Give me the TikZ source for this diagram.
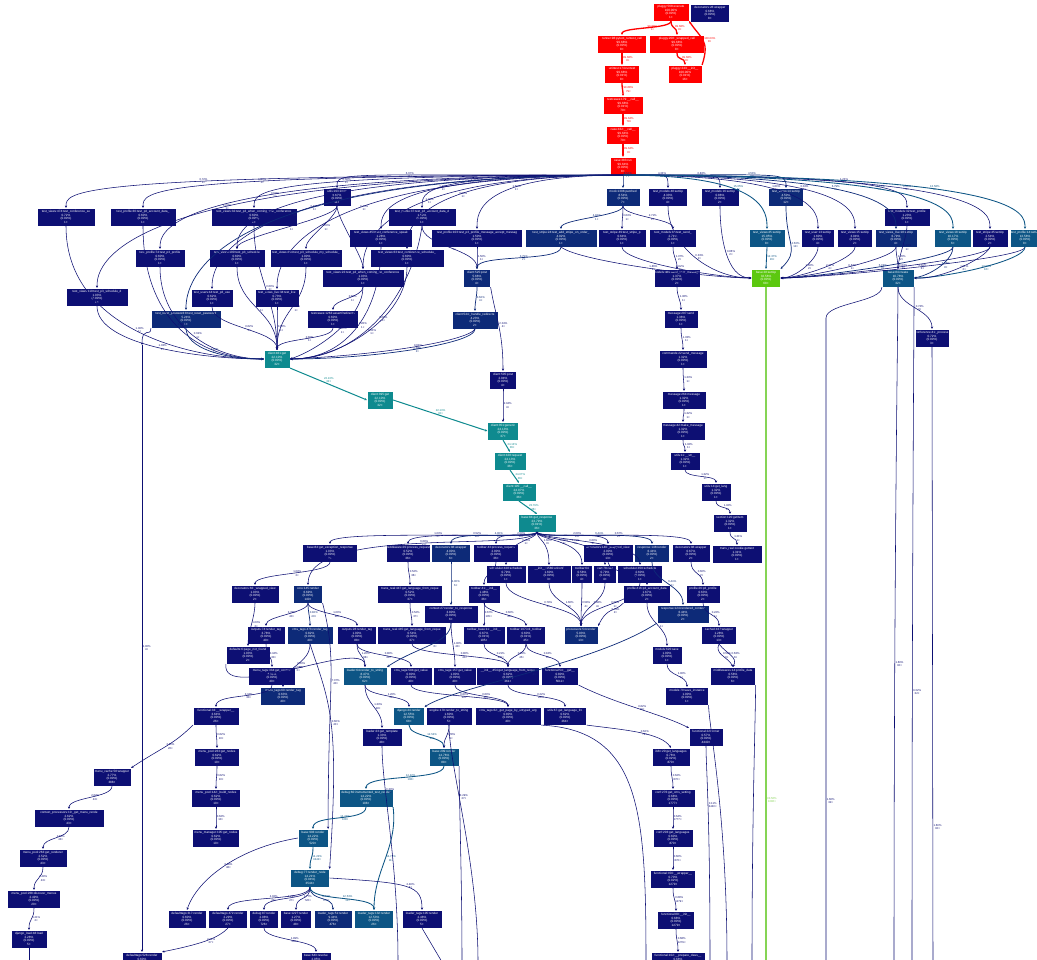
\documentclass[tikz,border=0pt]{standalone}
\usepackage{fontspec}
\setmainfont{Liberation Sans}
\usetikzlibrary{arrows.meta}
\definecolor{cN}{HTML}{0D0F73}
\definecolor{cM}{HTML}{0D2A78}
\definecolor{cB}{HTML}{0D5585}
\definecolor{cT}{HTML}{0E8A8F}
\definecolor{cG}{HTML}{5CC80F}
\definecolor{cGl}{HTML}{86D455}
\definecolor{cR}{HTML}{FF0000}
\newcommand\nf{\fontsize{3.1}{3.55}\selectfont}
\newcommand\lf{\fontsize{2.8}{3.1}\selectfont}
\newcommand\GN[6]{\node[fn,fill=#5,minimum width=#4pt] (#1) at (#2,#3) {#6};}
\newcommand\EE[5][eN]{\draw[#1] (#2) .. controls +(0,#5) and +(0,-#5) .. node[lab]{#4} (#3);}
\newcommand\EG[6][eN]{\draw[#1] (#2) .. controls +#3 and +#4 .. node[lab]{#6} (#5);}
\newcommand\FO[3][eN]{\draw[#1] (R8.south) .. controls (#2.north |- R8.south) and +(0,-16) .. node[lab,pos=.38]{#3} (#2.north);}
\tikzset{
 fn/.style={text=white, font=\nf, align=center, inner sep=0.3pt, minimum height=18pt, draw=white, line width=0.2pt},
 lab/.style={font=\lf, align=center, inner sep=0.2pt, right=0.3pt},
 e/.style={-{Stealth[length=2.4pt,width=2.2pt]}},
 eN/.style={e, draw=cN, text=cN, line width=0.55pt},
 eM/.style={e, draw=cM, text=cM, line width=0.7pt},
 eB/.style={e, draw=cB, text=cB, line width=0.85pt},
 eT/.style={e, draw=cT, text=cT, line width=1pt},
 eG/.style={e, draw=cGl, text=cGl, line width=1.4pt},
 eR/.style={e, draw=cR, text=cR, line width=1.3pt}
}
\begin{document}
\catcode`\_=12
\begin{tikzpicture}[x=1pt,y=-1pt]
\useasboundingbox (0,0) rectangle (1037,960);
\fill[white] (0,0) rectangle (1037,960);
% ---------- red chain
\GN{R1}{671}{12}{36}{cR}{pluggy:568:execute\\100.00\%\\(0.00\%)\\1×}
\GN{R1b}{710}{13}{39}{cN}{decorators:28:wrapper\\0.68\%\\(0.00\%)\\8×}
\GN{R2}{622}{44}{49}{cR}{runner:98:pytest_runtest_call\\99.68\%\\(0.00\%)\\8×}
\GN{R3}{677}{44}{55}{cR}{pluggy:208:_wrapped_call\\99.68\%\\(0.00\%)\\8×}
\GN{R4}{622}{74}{35}{cR}{unittest:174:runtest\\99.68\%\\(0.01\%)\\8×}
\GN{R5}{685}{74}{34}{cR}{pluggy:243:__init__\\100.00\%\\(0.01\%)\\16×}
\GN{R6}{623}{105}{40}{cR}{testcases:179:__call__\\99.68\%\\(0.01\%)\\79×}
\GN{R7}{623}{135}{33}{cR}{case:432:__call__\\99.64\%\\(0.00\%)\\79×}
\GN{R8}{623}{166}{26}{cR}{case:383:run\\99.64\%\\(0.00\%)\\8×}
% ---------- tests
\GN{U1}{337}{197}{28}{cN}{utils:193:inner\\6.67\%\\(0.00\%)\\11×}
\GN{MK}{623}{197}{34}{cM}{mock:1398:patched\\8.54\%\\(0.00\%)\\7×}
\GN{TM48}{668}{197}{39}{cN}{test_models:48:setUp\\4.33\%\\(0.00\%)\\4×}
\GN{TM16}{720}{197}{38}{cN}{test_models:16:setUp\\0.86\%\\(0.00\%)\\2×}
\GN{TV14}{786}{197}{35}{cM}{test_views:14:setUp\\4.50\%\\(0.00\%)\\12×}
\GN{TM32}{907}{217}{46}{cN}{test_models:32:test_profile\\1.23\%\\(0.00\%)\\1×}
\GN{A1}{66}{217}{58}{cN}{test_views:474:test_conference_se\\0.72\%\\(0.00\%)\\1×}
\GN{A2}{143}{217}{66}{cN}{test_profile:30:test_p3_account_data_\\0.60\%\\(0.00\%)\\1×}
\GN{A3}{254}{217}{86}{cN}{test_views:32:test_p3_when_coming_with_conference\\0.60\%\\(0.00\%)\\1×}
\GN{A4}{422}{217}{68}{cN}{test_profile:37:test_p3_account_data_d\\1.58\%\\(0.00\%)\\1×}
\GN{B1}{381}{238}{63}{cN}{test_views:453:test_conference_speak\\1.28\%\\(0.00\%)\\1×}
\GN{B2}{477}{238}{91}{cN}{test_profile:103:test_p3_profile_message_accept_messag\\1.50\%\\(0.00\%)\\1×}
\GN{B3}{561}{238}{72}{cM}{test_stripe:24:test_add_stripe_on_order_\\4.92\%\\(0.00\%)\\1×}
\GN{B4}{622}{238}{48}{cN}{test_stripe:49:test_stripe_p\\0.64\%\\(0.00\%)\\1×}
\GN{B5}{673}{238}{47}{cN}{test_models:86:test_send_\\2.71\%\\(0.00\%)\\1×}
\GN{B6}{767}{238}{36}{cB}{test_views:45:setUp\\15.05\%\\(0.00\%)\\8×}
\GN{B7}{818}{238}{33}{cN}{test_user:13:setUp\\1.60\%\\(0.00\%)\\4×}
\GN{B8}{855}{238}{35}{cN}{test_views:15:setUp\\3.04\%\\(0.00\%)\\2×}
\GN{B9}{896}{238}{42}{cM}{test_views_live:18:setUp\\6.79\%\\(0.00\%)\\4×}
\GN{B10}{953}{238}{37}{cB}{test_views:18:setUp\\10.17\%\\(0.00\%)\\6×}
\GN{B11}{990}{238}{36}{cN}{test_stripe:45:setUp\\2.54\%\\(0.00\%)\\2×}
\GN{B12}{1025}{238}{30}{cB}{test_profile:14:setUp\\13.58\%\\(0.00\%)\\8×}
\GN{C1}{160}{258}{50}{cN}{test_profile:74:test_p3_profile\\0.60\%\\(0.00\%)\\1×}
\GN{C2}{237}{258}{56}{cN}{test_views:100:test_p3_schedule\\0.60\%\\(0.00\%)\\1×}
\GN{C3}{306}{258}{72}{cN}{test_views:204:test_p3_schedule_my_schedule_\\1.00\%\\(0.00\%)\\1×}
\GN{C4}{407}{258}{74}{cN}{test_views:63:test_conference_schedule_\\0.60\%\\(0.00\%)\\1×}
\GN{D1}{363}{278}{82}{cN}{test_views:22:test_p3_when_coming_no_conference\\1.03\%\\(0.00\%)\\1×}
\GN{CP}{477}{278}{27}{cM}{client:525:post\\5.66\%\\(0.00\%)\\4×}
\GN{ML}{677}{278}{46}{cN}{models:489:send_user_message\\1.37\%\\(0.00\%)\\2×}
\GN{GR}{766}{278}{29}{cG}{base:28:setUp\\33.56\%\\(0.00\%)\\68×}
\GN{FX}{898}{278}{32}{cB}{base:84:create\\10.78\%\\(0.00\%)\\32×}
\GN{E1}{97}{297}{62}{cN}{test_views:119:test_p3_schedule_d\\1.03\%\\(0.00\%)\\1×}
\GN{E2}{212}{298}{42}{cN}{test_users:44:test_p3_use\\0.62\%\\(0.00\%)\\1×}
\GN{E3}{277}{298}{44}{cN}{test_views_live:34:test_live\\0.73\%\\(0.00\%)\\1×}
\GN{F1}{186}{319}{70}{cM}{test_reset_password:8:test_reset_password\\5.24\%\\(0.00\%)\\1×}
\GN{F2}{333}{319}{51}{cN}{testcases:1263:assertRedirects\\0.60\%\\(0.00\%)\\1×}
\GN{HR}{475}{320}{46}{cM}{client:544:_handle_redirects\\4.23\%\\(0.00\%)\\2×}
\GN{MS}{681}{319}{34}{cN}{message:297:send\\1.36\%\\(0.00\%)\\1×}
\GN{CN}{932}{338}{34}{cN}{conference:41:_process\\0.72\%\\(0.00\%)\\3×}
\GN{G1}{277}{359}{26}{cT}{client:461:get\\22.10\%\\(0.00\%)\\32×}
\GN{MC}{683}{359}{48}{cN}{commands:22:send_message\\1.32\%\\(0.00\%)\\1×}
\GN{G2}{380}{400}{26}{cT}{client:395:get\\22.10\%\\(0.00\%)\\32×}
\GN{CPo}{503}{380}{27}{cN}{client:505:post\\2.04\%\\(0.00\%)\\4×}
\GN{MM}{684}{400}{44}{cN}{message:264:message\\1.32\%\\(0.00\%)\\1×}
\GN{GEN}{503}{431}{31}{cT}{client:351:generic\\24.13\%\\(0.00\%)\\37×}
\GN{MK2}{683}{431}{44}{cN}{message:42:make_message\\1.32\%\\(0.00\%)\\1×}
\GN{REQ}{510}{461}{32}{cT}{client:428:request\\24.13\%\\(0.00\%)\\36×}
\GN{US}{685}{461}{30}{cN}{utils:11:__str__\\1.32\%\\(0.00\%)\\1×}
\GN{CALL}{519}{492}{34}{cT}{client:105:__call__\\24.07\%\\(0.00\%)\\36×}
\GN{UG}{716}{492}{30}{cN}{utils:14:get_lang\\1.32\%\\(0.00\%)\\1×}
\GN{GRp}{537}{523}{38}{cT}{base:84:get_response\\23.79\%\\(0.01\%)\\36×}
\GN{SG}{730}{523}{34}{cN}{section:120:getItem\\1.32\%\\(0.00\%)\\1×}
\GN{TG}{737}{554}{50}{cN}{trans_real:cookie.gettext\\1.31\%\\(0.00\%)\\1×}
% ---------- request handling
\GN{X1}{330}{553}{55}{cN}{base:84:get_exception_response\\1.03\%\\(0.00\%)\\2×}
\GN{X2}{408}{553}{44}{cN}{middleware:29:process_request\\0.52\%\\(0.00\%)\\36×}
\GN{X3}{451}{553}{39}{cM}{decorators:88:wrapper\\4.00\%\\(0.00\%)\\6×}
\GN{X4}{496}{553}{45}{cN}{toolbar:43:process_request\\2.00\%\\(0.00\%)\\36×}
\GN{X5}{608}{553}{50}{cN}{decorators:140:_wrapped_view\\2.00\%\\(0.00\%)\\13×}
\GN{X6}{652}{553}{35}{cM}{response:148:render\\6.44\%\\(0.00\%)\\2×}
\GN{X7}{691}{553}{38}{cN}{decorators:88:wrapper\\0.67\%\\(0.00\%)\\2×}
\GN{Y1}{506}{574}{40}{cN}{scheduler:428:schedule\\0.79\%\\(0.00\%)\\1×}
\GN{Y2}{549}{574}{44}{cN}{__init__:1580:urlconf\\1.60\%\\(0.00\%)\\3×}
\GN{Y3}{582}{574}{21}{cN}{toolbar:64\\0.58\%\\(0.00\%)\\4×}
\GN{Y4}{605}{574}{23}{cN}{cart:78:cart\\0.79\%\\(0.00\%)\\4×}
\GN{Y5}{640}{574}{45}{cN}{scheduler:450:schedule\\0.60\%\\(0.00\%)\\1×}
\GN{Z1}{255}{594}{48}{cN}{decorators:66:_wrapped_view\\1.03\%\\(0.00\%)\\2×}
\GN{Z2}{308}{594}{29}{cM}{core:145:render\\6.69\%\\(0.00\%)\\140×}
\GN{Z3}{410}{594}{65}{cN}{trans_real:447:get_language_from_reque\\0.52\%\\(0.00\%)\\37×}
\GN{Z4}{484}{594}{32}{cN}{toolbar:41:__init__\\1.48\%\\(0.00\%)\\36×}
\GN{Z5}{647}{594}{47}{cN}{profile:446:p3_account_data\\1.67\%\\(0.00\%)\\2×}
\GN{Z6}{703}{594}{34}{cN}{profile:26:p3_profile\\0.63\%\\(0.00\%)\\2×}
\GN{H1}{451}{614}{54}{cN}{context:27:render_to_response\\3.80\%\\(0.00\%)\\6×}
\GN{H2}{683}{614}{52}{cM}{response:124:rendered_content\\6.44\%\\(0.00\%)\\2×}
\GN{I1}{266}{635}{38}{cN}{outputs:74:render_tag\\3.78\%\\(0.00\%)\\40×}
\GN{I2}{310}{635}{46}{cM}{cms_tags:473:render_tag\\0.82\%\\(0.00\%)\\40×}
\GN{I3}{357}{635}{39}{cN}{outputs:28:render_tag\\1.00\%\\(0.00\%)\\88×}
\GN{I4}{412}{635}{69}{cN}{trans_real:445:get_language_from_reque\\0.54\%\\(0.00\%)\\37×}
\GN{I5}{484}{635}{42}{cN}{toolbar_base:11:__init__\\0.67\%\\(0.01\%)\\105×}
\GN{I6}{526}{635}{39}{cN}{toolbar:107:init_toolbar\\0.60\%\\(0.01\%)\\45×}
\GN{I7}{581}{635}{34}{cM}{processors:54:render\\5.93\%\\(0.00\%)\\13×}
\GN{I8}{719}{635}{35}{cN}{cached:437:wrapper\\1.28\%\\(0.00\%)\\13×}
\GN{J0}{248}{655}{44}{cN}{defaults:6:page_not_found\\1.03\%\\(0.00\%)\\2×}
\GN{MSV}{667}{655}{30}{cN}{models:620:save\\1.00\%\\(0.00\%)\\1×}
\GN{K0}{272}{676}{47}{cN}{menu_tags:334:get_context\\3.34\%\\(0.00\%)\\40×}
\GN{K1}{365}{676}{44}{cB}{loader:64:render_to_string\\8.47\%\\(0.00\%)\\62×}
\GN{K2}{411}{676}{42}{cN}{cms_tags:594:get_value\\0.80\%\\(0.00\%)\\40×}
\GN{K3}{455}{676}{43}{cN}{cms_tags:157:get_value\\1.00\%\\(0.00\%)\\40×}
\GN{K4}{508}{676}{63}{cN}{__init__:454:get_language_from_reque\\0.62\%\\(0.00\%)\\261×}
\GN{K5}{560}{676}{37}{cN}{functional:54:__get__\\0.80\%\\(0.00\%)\\5611×}
\GN{MW}{733}{676}{45}{cN}{middlewares:14:profile_data\\0.58\%\\(0.00\%)\\6×}
\GN{K6}{283}{696}{45}{cM}{menu_tags:60:render_tag\\0.63\%\\(0.00\%)\\40×}
\GN{MSI}{687}{696}{43}{cN}{models:70:save_instance\\1.00\%\\(0.00\%)\\1×}
\GN{L0}{216}{716}{46}{cN}{functional:33:__wrapper__\\3.64\%\\(0.00\%)\\26×}
\GN{L1}{409}{716}{31}{cB}{django:44:render\\12.55\%\\(0.00\%)\\68×}
\GN{L2}{449}{716}{46}{cN}{engine:179:render_to_string\\1.60\%\\(0.00\%)\\5×}
\GN{L3}{508}{716}{66}{cN}{cms_tags:62:_get_page_by_untyped_arg\\0.80\%\\(0.00\%)\\40×}
\GN{L4}{565}{716}{43}{cN}{utils:67:get_language_fro\\0.62\%\\(0.00\%)\\264×}
\GN{M1}{382}{737}{40}{cN}{loader:23:get_template\\1.33\%\\(0.00\%)\\48×}
\GN{M2}{706}{737}{34}{cN}{functional:220:inner\\0.57\%\\(0.00\%)\\4440×}
\GN{N0}{217}{757}{45}{cN}{menu_pool:263:get_nodes\\0.62\%\\(0.00\%)\\10×}
\GN{N1}{444}{757}{30}{cB}{base:209:render\\14.76\%\\(0.00\%)\\88×}
\GN{N2}{671}{757}{38}{cN}{i18n:20:get_languages\\0.76\%\\(0.02\%)\\870×}
\GN{O1}{112}{777}{38}{cN}{menu_cache:58:wrapper\\2.77\%\\(0.00\%)\\388×}
\GN{P0}{216}{798}{49}{cN}{menu_pool:142:_build_nodes\\0.62\%\\(0.00\%)\\10×}
\GN{P1}{366}{798}{54}{cB}{debug:60:instrumented_test_render\\14.22\%\\(0.00\%)\\108×}
\GN{P2}{673}{798}{44}{cN}{conf:276:get_cms_setting\\0.68\%\\(0.00\%)\\1777×}
\GN{Q0}{69}{818}{70}{cN}{context_processors:10:_get_menu_rende\\2.62\%\\(0.00\%)\\43×}
\GN{R0n}{216}{838}{47}{cN}{menu_manager:105:get_nodes\\0.62\%\\(0.00\%)\\10×}
\GN{S1}{313}{838}{30}{cB}{base:903:render\\14.22\%\\(0.00\%)\\520×}
\GN{S2}{673}{838}{40}{cN}{conf:203:get_languages\\0.60\%\\(0.00\%)\\870×}
\GN{T0}{43}{858}{48}{cN}{menu_pool:263:get_renderer\\2.52\%\\(0.00\%)\\43×}
\GN{U0}{310}{878}{39}{cB}{debug:77:render_node\\14.21\%\\(0.04\%)\\3544×}
\GN{U2}{673}{879}{45}{cN}{functional:150:__wrapper__\\0.70\%\\(0.02\%)\\1279×}
\GN{V0}{34}{899}{53}{cN}{menu_pool:268:discover_menus\\2.49\%\\(0.00\%)\\20×}
\GN{W1}{187}{919}{38}{cN}{defaulttags:317:render\\0.60\%\\(0.00\%)\\26×}
\GN{W2}{228}{919}{39}{cN}{defaulttags:472:render\\2.29\%\\(0.00\%)\\27×}
\GN{W3}{264}{919}{29}{cN}{debug:87:render\\2.08\%\\(0.00\%)\\726×}
\GN{W4}{296}{919}{31}{cN}{base:1227:render\\1.27\%\\(0.00\%)\\48×}
\GN{W5}{333}{919}{38}{cM}{loader_tags:51:render\\9.44\%\\(0.00\%)\\476×}
\GN{W6}{374}{919}{39}{cB}{loader_tags:132:render\\12.53\%\\(0.00\%)\\26×}
\GN{W7}{422}{919}{40}{cN}{loader_tags:105:render\\2.48\%\\(0.00\%)\\5×}
\GN{U3}{676}{920}{37}{cN}{functional:89:__init__\\0.68\%\\(0.00\%)\\1279×}
\GN{V1}{29}{939}{36}{cN}{django_load:48:load\\2.28\%\\(0.00\%)\\5×}
\GN{BT1}{142}{961}{40}{cN}{defaulttags:528:render\\0.60\%\\(0.00\%)\\26×}
\GN{BT2}{316}{961}{30}{cN}{base:643:resolve\\2.05\%\\(0.00\%)\\592×}
\GN{BT3}{678}{961}{54}{cN}{functional:102:__prepare_class__\\0.68\%\\(0.00\%)\\1279×}
% ---------- free ends
\coordinate (bG) at (766,962);
\coordinate (b1t) at (826,318); \coordinate (b1) at (826,962);
\coordinate (b2) at (894,962); \coordinate (b3) at (912,962);
\coordinate (b4) at (933,962); \coordinate (b5) at (752,962);
\coordinate (b6) at (727,962); \coordinate (b7) at (710,962);
\coordinate (b8) at (646,962); \coordinate (b9) at (398,962);
\coordinate (b10) at (462,962); \coordinate (b11) at (442,962);
\coordinate (b12) at (29,962); \coordinate (b13) at (478,962);
\coordinate (bl1) at (142,345);
% ---------- red edges
\EE[eR]{R1.south}{R2.north}{99.68\%\\1×}{8}
\EE[eR]{R1.south}{R3.north}{99.68\%\\8×}{8}
\EE[eR]{R3.south}{R5.north}{99.68\%\\8×}{8}
\draw[eR] (R5.north east) .. controls +(8,-25) and +(12,18) .. node[lab]{100.00\%\\8×} (R1.south east);
\EE[eR]{R2.south}{R4.north}{99.68\%\\8×}{6}
\EE[eR]{R4.south}{R6.north}{99.68\%\\79×}{6}
\EE[eR]{R6.south}{R7.north}{99.64\%\\79×}{6}
\EE[eR]{R7.south}{R8.north}{99.64\%\\8×}{6}
% ---------- fan-out
\FO{U1}{6.67\%\\11×}
\FO{A1}{0.72\%\\1×}
\FO{A2}{0.60\%\\1×}
\FO{A3}{0.60\%\\1×}
\FO{A4}{1.58\%\\1×}
\FO[eM]{MK}{8.54\%\\7×}
\FO{TM48}{4.33\%\\2×}
\FO{TM16}{0.86\%\\2×}
\FO[eM]{TV14}{4.50\%\\12×}
\FO{TM32}{1.23\%\\1×}
\FO[eB]{B6}{15.05\%\\8×}
\FO{B7}{1.60\%\\3×}
\FO{B8}{3.04\%\\2×}
\FO[eM]{B9}{6.79\%\\4×}
\FO[eB]{B10}{10.17\%\\6×}
\FO{B11}{2.54\%\\2×}
\FO[eB]{B12}{13.58\%\\8×}
\FO{B1}{1.28\%\\1×}
\FO{B2}{1.50\%\\1×}
\FO{C1}{0.60\%\\1×}
\FO{C2}{0.60\%\\1×}
\FO{C4}{0.60\%\\1×}
\FO{D1}{1.03\%\\1×}
\FO{E1}{1.03\%\\1×}
\FO{E2}{0.62\%\\1×}
\FO{E3}{0.73\%\\1×}
\FO[eM]{F1}{5.24\%\\1×}
\EE{U1.south}{C2.north}{0.60\%\\1×}{12}
\EE{U1.south}{C3.north}{1.00\%\\1×}{12}
\EE{U1.south}{D1.north}{0.71\%\\1×}{12}
\EE[eM]{MK.south}{B3.north}{4.92\%\\1×}{10}
\EE{MK.south}{B4.north}{0.64\%\\1×}{10}
\EE{MK.south}{B5.north}{2.71\%\\1×}{10}
% ---------- into client get
\EG{A1.south}{(0,100)}{(-80,0)}{G1.west}{1.00\%\\1×}
\EG{A2.south}{(0,90)}{(-70,0)}{G1.west}{0.60\%\\1×}
\EG{C1.south}{(0,60)}{(-50,0)}{G1.west}{0.62\%\\1×}
\EG{E1.south}{(0,40)}{(-60,0)}{G1.west}{1.03\%\\1×}
\EG[eM]{F1.south}{(0,20)}{(-40,0)}{G1.west}{3.11\%\\1×}
\EE{A3.south}{G1.north}{0.60\%\\1×}{50}
\EE{C2.south}{G1.north}{0.60\%\\1×}{40}
\EE{C3.south}{G1.north}{1.00\%\\1×}{40}
\EE{E2.south}{G1.north}{0.62\%\\1×}{20}
\EE{E3.south}{G1.north}{0.80\%\\1×}{15}
\EE{F2.south}{G1.north}{0.60\%\\1×}{12}
\EE{D1.south}{F2.north}{0.60\%\\1×}{10}
\EG{D1.south}{(0,30)}{(30,-10)}{G1.east}{0.60\%\\1×}
\EG{C4.south}{(0,50)}{(50,0)}{G1.east}{0.60\%\\1×}
\EG{B1.south}{(0,60)}{(60,0)}{G1.east}{1.28\%\\1×}
\EG{A4.south}{(-10,70)}{(70,0)}{G1.east}{0.60\%\\1×}
\EG[eM]{HR.south}{(0,15)}{(80,0)}{G1.east}{4.23\%\\2×}
\EG{HR.south}{(-8,12)}{(90,-4)}{G1.east}{0.60\%\\1×}
\EG{F1.south west}{(0,10)}{(0,-20)}{bl1}{}
\draw[eN] (bl1) -- node[lab]{1.00\%\\4×} (BT1.north);
% ---------- post chain
\EE{A4.south}{CP.north}{1.00\%\\1×}{20}
\EE{B2.south}{CP.north}{1.50\%\\1×}{15}
\EE[eM]{B3.south}{CP.north}{3.79\%\\2×}{15}
\EE[eM]{CP.south}{HR.north}{3.62\%\\4×}{10}
\EG{CP.south east}{(5,30)}{(0,-40)}{CPo.north}{2.04\%\\4×}
\EE{CPo.south}{GEN.north}{2.04\%\\4×}{10}
\draw[eT] (G1.south east) -- node[lab,above=0.5pt]{22.10\%\\32×} (G2.west);
\draw[eT] (G2.east) -- node[lab,above=0.5pt]{22.10\%\\32×} (GEN.west);
\draw[eT] (GEN.south) -- node[lab]{24.13\%\\36×} (REQ.north);
\draw[eT] (REQ.south) -- node[lab]{24.07\%\\36×} (CALL.north);
\draw[eT] (CALL.south) -- node[lab]{23.79\%\\36×} (GRp.north);
% ---------- message chain
\EE{B5.south}{ML.north}{1.37\%\\2×}{10}
\EE{ML.south}{MS.north}{1.36\%\\1×}{10}
\EE{MS.south}{MC.north}{1.33\%\\1×}{10}
\EE{MC.south}{MM.north}{1.33\%\\1×}{10}
\EE{MM.south}{MK2.north}{1.32\%\\1×}{8}
\EE{MK2.south}{US.north}{1.32\%\\1×}{8}
\EE{US.south}{UG.north}{1.32\%\\1×}{8}
\EE{UG.south}{SG.north}{1.32\%\\1×}{8}
\EE{SG.south}{TG.north}{1.31\%\\1×}{8}
% ---------- setUp -> green / fixtures
\EG{TM48.south}{(0,40)}{(-40,0)}{GR.west}{0.33\%\\2×}
\EG{TM16.south}{(0,30)}{(-25,0)}{GR.west}{0.86\%\\2×}
\EG{B3.south}{(20,15)}{(-40,0)}{GR.west}{1.86\%\\2×}
\EG{B4.south}{(0,15)}{(-30,0)}{GR.west}{0.52\%\\1×}
\EG[eM]{TV14.south}{(0,40)}{(20,-20)}{GR.north east}{4.50\%\\12×}
\draw[eB] (B6.south) -- node[lab]{12.37\%\\16×} (GR.north);
\EG{B7.south}{(0,12)}{(15,0)}{GR.east}{1.60\%\\2×}
\EG{B8.south}{(0,12)}{(20,0)}{GR.east}{2.71\%\\4×}
\EG{B9.south}{(0,12)}{(25,0)}{GR.east}{0.67\%\\1×}
\EG[eM]{B10.south}{(0,12)}{(30,0)}{GR.east}{5.09\%\\8×}
\EG{B11.south}{(0,12)}{(35,0)}{GR.east}{0.64\%\\1×}
\EG{B12.south}{(0,12)}{(40,0)}{GR.east}{2.59\%\\8×}
\EE{B9.south}{FX.north}{1.20\%\\2×}{8}
\EG[eM]{B10.south}{(0,12)}{(20,-4)}{FX.east}{5.08\%\\8×}
\EG[eB]{B12.south}{(0,14)}{(30,0)}{FX.east}{10.99\%\\16×}
\EG{B11.south}{(-5,12)}{(25,2)}{FX.east}{1.61\%\\2×}
\EG{TM32.south}{(0,10)}{(0,-10)}{FX.north}{1.23\%\\1×}
\EE{FX.south}{CN.north}{0.73\%\\3×}{20}
\draw[eG,-] (GR.south) -- node[lab,pos=.76]{33.56\%\\1086×} (bG);
\draw[eN,-] (FX.south west) .. controls +(0,15) and +(0,-15) .. (b1t) -- node[lab,pos=.75]{1.60\%\\32×} (b1);
\draw[eN,-] (FX.south) .. controls +(0,30) and +(0,-400) .. node[lab,pos=.72]{1.60\%\\32×} (b2);
\draw[eN,-] (FX.south east) .. controls +(0,30) and +(0,-400) .. node[lab,pos=.75]{3.32\%\\32×} (b3);
\draw[eN,-] (CN.south) -- node[lab,pos=.78]{1.60\%\\32×} (b4);
% ---------- get_response fan-out
\EG{GRp.south}{(0,8)}{(0,-15)}{X1.north}{1.03\%\\2×}
\EG{GRp.south}{(0,8)}{(0,-15)}{X2.north}{0.52\%\\36×}
\EG[eM]{GRp.south}{(0,8)}{(0,-15)}{X3.north}{4.00\%\\6×}
\EG{GRp.south}{(0,8)}{(0,-15)}{X4.north}{2.00\%\\36×}
\EG{GRp.south}{(0,8)}{(0,-25)}{Y1.north}{0.79\%\\1×}
\EG{GRp.south}{(0,8)}{(0,-25)}{Y2.north}{1.60\%\\3×}
\EG{GRp.south}{(0,8)}{(0,-25)}{Y3.north}{0.58\%\\4×}
\EG{GRp.south}{(0,8)}{(0,-25)}{Y4.north}{0.79\%\\4×}
\EG{GRp.south}{(0,8)}{(0,-25)}{Y5.north}{0.60\%\\1×}
\EG{GRp.south}{(0,8)}{(0,-15)}{X5.north}{2.00\%\\13×}
\EG[eM]{GRp.south}{(0,8)}{(0,-15)}{X6.north}{6.44\%\\2×}
\EG{GRp.south}{(0,8)}{(0,-15)}{X7.north}{0.67\%\\2×}
\EG{GRp.south}{(-8,20)}{(0,-60)}{Z2.north}{6.69\%\\42×}
% ---------- middle
\EE{X1.south}{Z1.north}{1.03\%\\2×}{12}
\EE{Z1.south}{J0.north}{1.03\%\\2×}{14}
\EG{J0.south west}{(-5,40)}{(0,-30)}{K1.north}{1.03\%\\2×}
\EE{Z2.south}{I1.north}{3.78\%\\40×}{10}
\EE[eM]{Z2.south}{I2.north}{0.82\%\\40×}{10}
\EE{Z2.south}{I3.north}{1.00\%\\88×}{10}
\EG{Z2.south east}{(15,60)}{(0,-150)}{S1.north east}{7.07\%\\40×}
\EG{I2.south}{(20,60)}{(10,-150)}{U0.north east}{0.60\%\\40×}
\EE{I1.south}{K0.north}{3.34\%\\30×}{12}
\EE{I2.south}{K6.north}{0.63\%\\40×}{20}
\EE{K0.south}{L0.north}{3.34\%\\30×}{14}
\EE{I3.south}{K1.north}{1.20\%\\88×}{12}
\EE{I3.south}{K2.north}{0.80\%\\40×}{12}
\EE{X2.south}{Z3.north}{0.52\%\\36×}{12}
\EE{Z3.south}{I4.north}{0.52\%\\37×}{10}
\EE{I4.south}{K4.north}{0.80\%\\40×}{12}
\EE[eM]{X3.south}{H1.north}{4.00\%\\6×}{20}
\EG[eM]{H1.south}{(0,20)}{(30,-20)}{K1.north east}{3.80\%\\6×}
\EE{H1.south}{K3.north}{1.00\%\\40×}{15}
\EE{X4.south}{Z4.north}{1.48\%\\36×}{12}
\EE{Z4.south}{I5.north}{0.67\%\\105×}{10}
\EE{Z4.south}{I6.north}{0.60\%\\45×}{10}
\EE{I5.south}{K4.north}{0.21\%\\105×}{12}
\EE{I6.south}{K4.north}{0.65\%\\45×}{12}
\EE{I6.south}{K5.north}{0.18\%\\6×}{12}
\EE{K4.south}{L4.north}{0.22\%\\264×}{12}
\EE{K3.south}{L3.north}{0.60\%\\40×}{12}
\EE{K2.south}{L3.north}{0.80\%\\40×}{12}
\EE{K1.south}{L1.north}{1.20\%\\11×}{12}
\EE{K1.south}{M1.north}{1.33\%\\48×}{20}
\EE[eB]{L1.south}{N1.north}{12.54\%\\20×}{12}
\EE{L2.south}{N1.north}{3.78\%\\5×}{12}
\EE[eB]{N1.south}{P1.north}{14.22\%\\108×}{15}
\EE[eB]{P1.south}{S1.north}{14.22\%\\108×}{15}
\EG[eB]{P1.south east}{(5,40)}{(0,-40)}{W6.north}{14.74\%\\11×}
\EE[eB]{S1.south}{U0.north}{14.22\%\\3442×}{12}
\EG{S1.west}{(-60,10)}{(10,-30)}{W1.north}{3.68\%\\48×}
\EE{U0.south}{W2.north}{4.02\%\\33×}{15}
\EE{U0.south}{W3.north}{2.29\%\\27×}{15}
\EE{U0.south}{W4.north}{1.77\%\\726×}{15}
\EE[eM]{U0.south}{W5.north}{9.44\%\\476×}{15}
\EE[eB]{U0.south}{W6.north}{12.53\%\\11×}{15}
\EG{U0.east}{(80,5)}{(0,-25)}{W7.north}{2.48\%\\5×}
\EG{W2.south}{(-10,10)}{(40,-8)}{BT1.north east}{2.24\%\\27×}
\EE{W3.south}{BT2.north}{1.99\%\\592×}{12}
% menu chain
\EE{L0.south}{N0.north}{0.62\%\\10×}{12}
\EG{L0.south west}{(-20,20)}{(30,-20)}{O1.north east}{2.62\%\\20×}
\EE{N0.south}{P0.north}{0.62\%\\10×}{12}
\EE{P0.south}{R0n.north}{0.62\%\\10×}{12}
\EE{O1.south}{Q0.north}{2.62\%\\43×}{12}
\EE{Q0.south}{T0.north}{2.62\%\\43×}{12}
\EE{T0.south}{V0.north}{2.49\%\\43×}{12}
\EE{V0.south}{V1.north}{1.21\%\\2×}{12}
\draw[eN,-] (V1.south) -- (b12);
% bottom verticals middle
\draw[eN,-] (M1.south) .. controls +(0,40) and +(0,-100) .. node[lab,pos=.3]{3.30\%\\9×} (b9);
\draw[eN,-] (L2.south) .. controls +(0,40) and +(0,-100) .. node[lab,pos=.4]{3.29\%\\27×} (b13);
\draw[eN,-] (N1.south east) .. controls +(0,30) and +(0,-80) .. (b10);
\draw[eN,-] (W7.south) -- (b11);
% ---------- right lower
\EE{X5.south}{Z5.north}{1.67\%\\2×}{12}
\EE[eM]{X6.south}{H2.north}{6.44\%\\2×}{20}
\EE{X7.south}{Z6.north}{0.60\%\\2×}{12}
\EE{Z6.south}{I8.north}{0.22\%\\1×}{12}
\EG{I8.south}{(-5,10)}{(-5,-10)}{MW.north}{0.50\%\\6×}
\EG{I8.south}{(8,10)}{(5,-10)}{MW.north}{0.58\%\\6×}
\draw[eN,-] (MW.south east) .. controls +(0,30) and +(0,-150) .. (b5);
\EG{Z5.south west}{(-10,10)}{(10,-20)}{I7.north east}{0.79\%\\2×}
\EE{Z5.south}{MSV.north}{1.00\%\\1×}{20}
\EE{MSV.south}{MSI.north}{1.00\%\\1×}{12}
\draw[eN,-] (MSI.south east) .. controls +(0,20) and +(0,-150) .. (b6);
\EE{Y1.south}{I7.north}{0.79\%\\1×}{20}
\EE{Y2.south}{I7.north}{1.60\%\\2×}{20}
\EE{Y3.south}{I7.north}{0.58\%\\4×}{20}
\EE{Y4.south}{I7.north}{0.68\%\\4×}{20}
\EE{Y5.south}{I7.north}{0.68\%\\1×}{20}
\EG[eM]{H2.south west}{(-60,40)}{(30,-20)}{L1.north east}{6.05\%\\2×}
\EG{K5.south east}{(40,20)}{(-30,-15)}{M2.north west}{0.62\%\\79×}
\draw[eN,-] (M2.south) .. controls +(0,20) and +(0,-150) .. node[lab,pos=.5]{0.11\%\\4440×} (b7);
\EG{L4.south east}{(40,5)}{(-10,-15)}{N2.north}{0.62\%\\79×}
\draw[eN,-] (L3.south east) .. controls +(100,5) and +(0,-150) .. (b8);
\EE{N2.south}{P2.north}{0.62\%\\870×}{12}
\EE{P2.south}{S2.north}{0.64\%\\1777×}{12}
\EE{S2.south}{U2.north}{0.60\%\\870×}{12}
\EE{U2.south}{U3.north}{0.68\%\\1279×}{12}
\EE{U3.south}{BT3.north}{0.68\%\\1279×}{12}
\end{tikzpicture}
\end{document}
